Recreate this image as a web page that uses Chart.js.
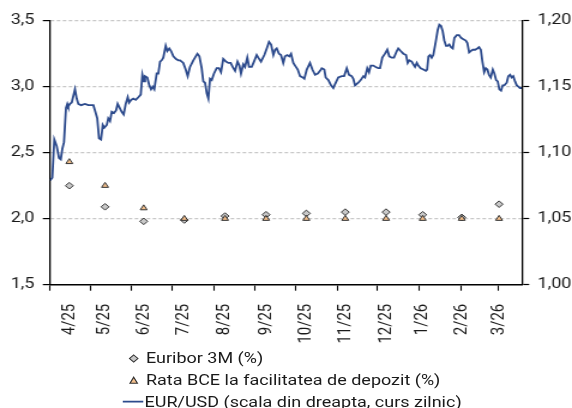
<!DOCTYPE html>
<html>
<head>
<meta charset="utf-8">
<script src="https://cdn.jsdelivr.net/npm/chart.js@4.4.1/dist/chart.umd.min.js"></script>
<style>
  html, body { margin: 0; padding: 0; background: #fff; overflow: hidden; }
  #outer { position: relative; width: 572px; height: 408px; overflow: hidden; }
  #wrap { position: absolute; left: 0; top: 0; width: 477px; height: 408px; transform: scaleX(1.19916); transform-origin: 0 0; }
  canvas { position: absolute; left: 0; top: 0; }
  .lg { position: absolute; font-family: Roboto, sans-serif; font-size: 15px; color: #1a1a1a; line-height: 20px; white-space: nowrap; }
</style>
</head>
<body>
<div id="outer">
<div id="wrap">
  <canvas id="c" width="477" height="408"></canvas>
  <div class="lg" style="left:121.7px; top:348px;">Euribor 3M (%)</div>
  <div class="lg" style="left:121.7px; top:370px;">Rata BCE la facilitatea de depozit (%)</div>
  <div class="lg" style="left:120.5px; top:391.5px;">EUR/USD (scala din dreapta, curs zilnic)</div>
  <svg style="position:absolute;left:105.7px;top:353px" width="11" height="11"><polygon points="5.5,2 9,5.5 5.5,9 2,5.5" fill="#c8c8c8" stroke="#333" stroke-width="1"/></svg>
  <svg style="position:absolute;left:105.5px;top:374.5px" width="11" height="11"><polygon points="5.5,2.2 8.6,8.3 2.4,8.3" fill="#f5c08c" stroke="#333" stroke-width="1"/></svg>
  <svg style="position:absolute;left:102px;top:396px" width="18" height="11"><line x1="0.3" y1="5.7" x2="17.5" y2="5.7" stroke="#2c4a8c" stroke-width="1.8"/></svg>
</div>
</div>
<script>
// ---- data ----
const monthLabels = ['4/25','5/25','6/25','7/25','8/25','9/25','10/25','11/25','12/25','1/26','2/26','3/26'];
// day offsets (since 1 Apr 2025) where each monthly observation is plotted
const monthDay = [14.4, 41.0, 69.8, 100.1, 130.4, 161.0, 191.0, 220.0, 250.4, 277.7, 306.8, 334.6];
// month boundaries (days since 1 Apr 2025)
const monthStartDay = [0, 30, 61, 91, 122, 153, 183, 214, 244, 275, 306, 334];
const euribor3m = [2.25, 2.09, 1.98, 1.99, 2.02, 2.03, 2.04, 2.05, 2.05, 2.03, 2.01, 2.11];
const ecbDeposit = [2.43, 2.25, 2.08, 2.00, 2.00, 2.00, 2.00, 2.00, 2.00, 2.00, 2.00, 2.00];
const leftTicks = [1.5, 2.0, 2.5, 3.0, 3.5];
const rightTicks = [1.00, 1.05, 1.10, 1.15, 1.20];

const fxDay = [0,1.7,3.2,5.0,6.7,8.0,9.2,10.4,11.9,12.9,13.6,14.9,16.2,18.6,19.9,21.1,23.1,26.1,28.5,31.1,32.3,33.5,35.2,36.5,38.0,39.3,40.5,42.3,43.4,44.7,46.0,47.7,49.2,50.4,51.9,53.4,54.9,56.4,57.9,58.9,60.4,62.1,63.9,65.8,67.6,68.8,70.0,
70.8,72.5,74.0,75.3,76.5,77.7,79.5,80.7,82.0,83.2,84.4,86.2,87.4,88.9,90.2,91.9,93.9,95.6,96.9,98.1,99.3,101.1,102.6,104.3,106.8,109.8,111.3,113.0,114.2,115.5,116.8,118.0,119.2,120.5,122.2,124.2,125.9,127.4,129.1,131.1,132.9,134.6,136.1,137.9,
139.7,141.1,142.3,144.0,145.3,147.0,148.3,150.3,152.0,154.0,155.2,157.2,159.7,161.5,163.2,164.7,166.4,167.7,168.9,170.6,172.1,173.8,175.1,176.8,178.3,179.6,181.3,182.6,184.6,186.3,188.3,189.5,191.3,193.7,195.5,197.5,199.5,201.2,202.5,204.4,205.4,207.4,209.4,211.1,212.4,
214.8,217.4,219.1,221.1,222.8,224.8,226.0,227.3,229.7,231.5,233.5,234.7,236.4,237.7,239.0,240.9,242.7,244.6,245.9,247.6,249.6,251.3,252.8,254.6,256.3,258.4,259.5,261.3,263.3,265.3,266.5,267.7,269.5,270.7,272.0,273.3,274.4,276.2,278.2,280.0,281.0,282.0,283.2,284.4,285.6,
287.4,288.9,290.1,291.4,292.6,293.8,295.1,296.3,297.5,298.8,300.1,301.3,303.1,304.8,306.3,308.0,309.8,311.0,312.3,313.5,315.0,316.7,318.4,319.7,321.0,322.2,323.5,324.7,325.9,327.1,328.4,329.9,331.1,332.4,333.6,334.8,336.1,337.3,338.5,340.3,341.5,342.8,344.0,345.2,346.5,347.8,349.0,350.2,351.5];
const fxRate = [1.079,1.081,1.110,1.105,1.096,1.095,1.103,1.108,1.134,1.137,1.135,1.137,1.138,1.148,1.141,1.137,1.136,1.137,1.136,1.136,1.136,1.132,1.126,1.111,1.110,1.121,1.119,1.121,1.126,1.124,1.131,1.130,1.132,1.137,1.134,1.131,1.129,1.137,1.142,1.138,1.140,1.141,1.140,1.142,1.144,1.159,1.154,
1.158,1.157,1.151,1.148,1.150,1.148,1.160,1.160,1.169,1.170,1.172,1.181,1.177,1.179,1.177,1.173,1.171,1.170,1.170,1.169,1.168,1.163,1.158,1.165,1.170,1.175,1.173,1.164,1.154,1.153,1.145,1.141,1.156,1.155,1.160,1.164,1.164,1.161,1.171,1.169,1.168,1.168,1.165,1.162,
1.169,1.166,1.160,1.167,1.165,1.172,1.165,1.165,1.169,1.174,1.172,1.169,1.174,1.179,1.184,1.182,1.174,1.178,1.179,1.175,1.174,1.168,1.173,1.174,1.173,1.175,1.168,1.166,1.163,1.158,1.157,1.156,1.163,1.168,1.163,1.159,1.160,1.162,1.164,1.163,1.157,1.155,1.151,1.149,1.152,
1.157,1.158,1.158,1.164,1.159,1.158,1.156,1.151,1.153,1.155,1.158,1.157,1.164,1.161,1.166,1.166,1.165,1.164,1.164,1.172,1.175,1.178,1.173,1.172,1.172,1.177,1.179,1.177,1.175,1.174,1.168,1.170,1.169,1.167,1.165,1.168,1.166,1.164,1.163,1.162,1.163,1.173,1.174,1.172,1.174,
1.184,1.193,1.197,1.196,1.192,1.185,1.181,1.181,1.182,1.180,1.179,1.187,1.189,1.189,1.187,1.186,1.185,1.183,1.176,1.177,1.178,1.178,1.179,1.180,1.178,1.169,1.161,1.164,1.163,1.159,1.157,1.163,1.160,1.155,1.154,1.148,1.147,1.151,1.151,1.153,1.158,1.159,1.157,1.158,1.154,1.151,1.150,1.149,1.149];

const X_MAX = 351.7;

Chart.defaults.font.family = 'Roboto, sans-serif';
Chart.defaults.font.size = 15;
Chart.defaults.color = '#1a1a1a';

const ecbData = monthDay.map((d, i) => ({x: d, y: ecbDeposit[i]}));
const euriborData = monthDay.map((d, i) => ({x: d, y: euribor3m[i]}));
const fxData = fxDay.map((d, i) => ({x: d, y: fxRate[i]}));

new Chart(document.getElementById('c'), {
  type: 'scatter',
  data: {
    datasets: [
      { label: 'Rata BCE la facilitatea de depozit (%)', data: ecbData, xAxisID: 'x', yAxisID: 'y', order: 0,
        pointStyle: 'triangle', pointRadius: 3.3, backgroundColor: '#f5c08c', borderColor: '#333', borderWidth: 1, showLine: false },
      { label: 'Euribor 3M (%)', data: euriborData, xAxisID: 'x', yAxisID: 'y', order: 1,
        pointStyle: 'rectRot', pointRadius: 3.3, backgroundColor: '#c8c8c8', borderColor: '#333', borderWidth: 1, showLine: false },
      { label: 'EUR/USD (scala din dreapta, curs zilnic)', data: fxData, xAxisID: 'x', yAxisID: 'y1', order: 2,
        type: 'line', showLine: true, pointRadius: 0, borderColor: '#2c4a8c', borderWidth: 1.8, fill: false, tension: 0 }
    ]
  },
  options: {
    responsive: false,
    animation: false,
    devicePixelRatio: 1,
    layout: { padding: { left: 0, right: 0, top: 20.7, bottom: 57.3 } },
    plugins: { legend: { display: false }, tooltip: { enabled: false } },
    scales: {
      x: {
        type: 'linear', position: 'bottom', min: 0, max: X_MAX,
        afterBuildTicks: s => { s.ticks = monthStartDay.map(v => ({value: v})); },
        afterFit: s => { s.height = 6; },
        ticks: { display: false },
        grid: { drawOnChartArea: false, drawTicks: true, tickLength: 6, tickColor: '#000', tickWidth: 1.1 },
        border: { display: true, color: '#000', width: 1.5 }
      },
      xl: {
        type: 'linear', position: 'bottom', min: 0, max: X_MAX,
        afterBuildTicks: s => { s.ticks = monthDay.map(v => ({value: v})); },
        afterFit: s => { s.height = 60; },
        ticks: {
          autoSkip: false, maxRotation: 90, minRotation: 90, padding: 5,
          callback: (v, i) => monthLabels[i]
        },
        grid: { display: false },
        border: { display: false }
      },
      y: {
        type: 'linear', position: 'left', min: 1.5, max: 3.5,
        afterBuildTicks: s => { s.ticks = leftTicks.map(v => ({value: v})); },
        afterFit: s => { s.width = 41.7; },
        ticks: { padding: 7, callback: v => v.toFixed(1).replace('.', ',') },
        grid: {
          color: c => (c.tick && c.tick.value === 1.5) ? 'rgba(0,0,0,0)' : '#c8c8c8',
          lineWidth: 1.2, tickColor: '#000', tickLength: 6, tickWidth: 1.2, tickBorderDash: []
        },
        border: { display: true, color: '#000', width: 1.3, dash: [3, 2] }
      },
      y1: {
        type: 'linear', position: 'right', min: 1.0, max: 1.2,
        afterBuildTicks: s => { s.ticks = rightTicks.map(v => ({value: v})); },
        afterFit: s => { s.width = 41.7; },
        ticks: { padding: 7, callback: v => v.toFixed(2).replace('.', ',') },
        grid: { drawOnChartArea: false, tickColor: '#000', tickLength: 6, tickWidth: 1.2 },
        border: { display: true, color: '#000', width: 1.3 }
      }
    }
  }
});
</script>
</body>
</html>
